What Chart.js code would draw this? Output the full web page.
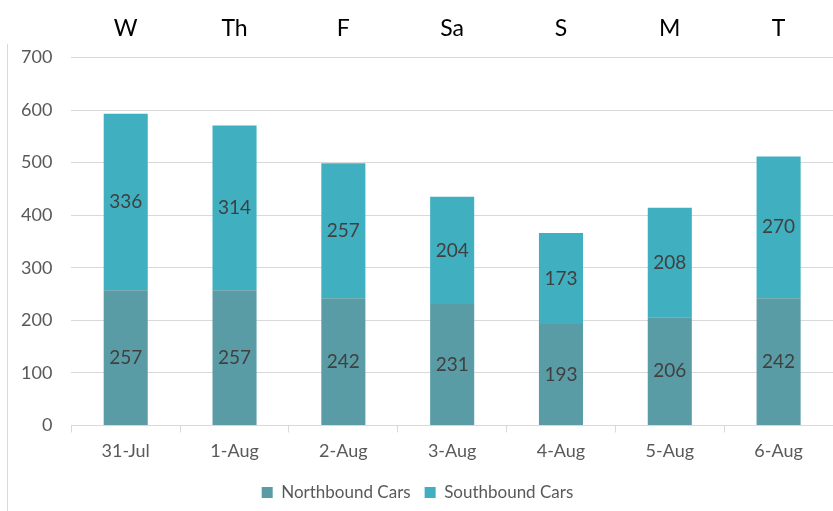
<!DOCTYPE html>
<html>
<head>
<meta charset="utf-8">
<script src="https://cdn.jsdelivr.net/npm/chart.js@4.4.0/dist/chart.umd.min.js"></script>
<style>
  html, body { margin: 0; padding: 0; background: #fff; }
  #wrap { width: 833px; height: 511px; }
</style>
</head>
<body>
<div id="wrap"><canvas id="carChart" width="833" height="511"></canvas></div>
<script>
// Chart data
const dates = ['31-Jul', '1-Aug', '2-Aug', '3-Aug', '4-Aug', '5-Aug', '6-Aug'];
const days = ['W', 'Th', 'F', 'Sa', 'S', 'M', 'T'];
const northbound = [257, 257, 242, 231, 193, 206, 242];
const southbound = [336, 314, 257, 204, 173, 208, 270];
const yTicks = [0, 100, 200, 300, 400, 500, 600, 700];

const FONT = 'Lato, "Open Sans", sans-serif';
const gridColor = '#d9d9d9';

// draws the value in the middle of every bar segment
const barLabels = {
  id: 'barLabels',
  afterDatasetsDraw(chart) {
    const c = chart.ctx;
    c.save();
    c.font = '19px ' + FONT;
    c.fillStyle = '#404040';
    c.textAlign = 'center';
    c.textBaseline = 'middle';
    chart.data.datasets.forEach((ds, i) => {
      chart.getDatasetMeta(i).data.forEach((bar, j) => {
        const p = bar.getProps(['x', 'y', 'base'], true);
        c.fillText(ds.data[j], p.x, (p.y + p.base) / 2);
      });
    });
    c.restore();
  }
};

// thin frame line on the left edge of the picture
const leftEdge = {
  id: 'leftEdge',
  beforeDraw(chart) {
    const c = chart.ctx;
    c.save();
    c.strokeStyle = '#d9d9d9';
    c.lineWidth = 1;
    c.beginPath();
    c.moveTo(7.5, 44);
    c.lineTo(7.5, chart.height);
    c.stroke();
    c.restore();
  }
};

const ctx = document.getElementById('carChart').getContext('2d');
const carChart = new Chart(ctx, {
  type: 'bar',
  data: {
    labels: dates,
    datasets: [{
      label: 'Northbound Cars',
      data: northbound,
      backgroundColor: '#5a9ca5'
    }, {
      label: 'Southbound Cars',
      data: southbound,
      backgroundColor: '#40b0c1'
    }]
  },
  options: {
    responsive: false,
    animation: false,
    devicePixelRatio: 1,
    categoryPercentage: 1,
    barPercentage: 0.405,
    layout: { padding: { left: 2, right: 0, top: 0, bottom: 0 } },
    plugins: {
      tooltip: { enabled: false },
      legend: {
        position: 'bottom',
        labels: {
          boxWidth: 11,
          boxHeight: 11,
          padding: 14,
          color: '#595959',
          font: { family: FONT, size: 17 }
        }
      }
    },
    scales: {
      x: {
        stacked: true,
        grid: {
          offset: true,
          drawOnChartArea: false,
          color: gridColor,
          tickLength: 7
        },
        border: { color: gridColor },
        ticks: {
          color: '#595959',
          padding: 8,
          font: { family: FONT, size: 18 }
        }
      },
      top: {
        type: 'category',
        position: 'top',
        labels: days,
        grid: { display: false, drawTicks: false },
        border: { display: false },
        ticks: {
          color: '#000',
          padding: 15,
          font: { family: FONT, size: 23 }
        }
      },
      y: {
        stacked: true,
        min: 0,
        max: 700,
        afterBuildTicks(scale) {
          scale.ticks = yTicks.map(v => ({ value: v }));
        },
        grid: { color: gridColor, drawTicks: false },
        border: { display: false },
        ticks: {
          color: '#595959',
          padding: 19,
          font: { family: FONT, size: 18 }
        }
      }
    }
  },
  plugins: [barLabels, leftEdge]
});
</script>
</body>
</html>
